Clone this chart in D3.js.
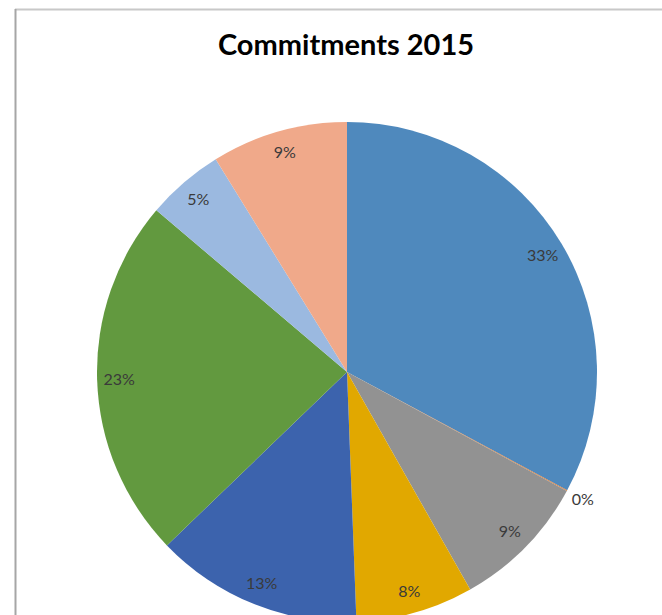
<!DOCTYPE html>
<head>
  <meta charset="utf-8">
  <script src="https://cdnjs.cloudflare.com/ajax/libs/d3/7.8.5/d3.min.js"></script>
</head>
<style>
  body { margin: 0; background: #fff; }
  .title { font-family: Lato, "Open Sans", sans-serif; font-weight: bold; font-size: 29px; fill: #000; }
  .lbl { font-family: Lato, "Open Sans", sans-serif; font-size: 16px; fill: #3a3a3a; }
</style>
<body>
  <svg width="662" height="615" class="my_pie"></svg>
  <script>
  // slices clockwise from 12 o'clock, in percent
  let categories = ["A", "B", "C", "D", "E", "F", "G", "H"];
  let values = [32.85, 0.05, 8.9, 7.6, 13.4, 23.4, 5.0, 8.8];
  let colors = ["#4f89bd", "#df7b2f", "#929292", "#e1a800", "#3c63ad", "#62993f", "#9bb9e0", "#f0a98a"];

  let svg = d3.select(".my_pie");

  // chart area frame (only top and left edges show)
  svg.append("line").attr("x1", 15).attr("y1", 9.5).attr("x2", 662).attr("y2", 9.5)
    .attr("stroke", "#c8c8c8").attr("stroke-width", 2);
  svg.append("line").attr("x1", 15.5).attr("y1", 9).attr("x2", 15.5).attr("y2", 615)
    .attr("stroke", "#a6a6a6").attr("stroke-width", 2);

  svg.append("text").attr("class", "title")
    .attr("x", 346).attr("y", 55).attr("text-anchor", "middle")
    .text("Commitments 2015");

  let cx = 347, cy = 372, radius = 250;
  let g = svg.append("g").attr("transform", "translate(" + cx + "," + cy + ")");

  let data = categories.map(function(c, i) { return {cat: c, value: values[i], color: colors[i]}; });
  let pie = d3.pie().sort(null).value(function(d) { return d.value; });
  let arc = d3.arc().innerRadius(0).outerRadius(radius);
  let arcs = pie(data);

  g.selectAll("path")
    .data(arcs)
    .enter().append("path")
      .attr("d", arc)
      .attr("fill", function(d) { return d.data.color; });

  let inLabel = d3.arc().innerRadius(228).outerRadius(228);
  let outLabel = d3.arc().innerRadius(268).outerRadius(268);

  g.selectAll(".lbl")
    .data(arcs)
    .enter().append("text")
      .attr("class", "lbl")
      .attr("text-anchor", "middle")
      .attr("dy", "0.35em")
      .attr("transform", function(d) {
        let a = d.data.value < 1 ? outLabel : inLabel;
        return "translate(" + a.centroid(d) + ")";
      })
      .text(function(d) { return Math.round(d.data.value) + "%"; });
  </script>
</body>
</html>
